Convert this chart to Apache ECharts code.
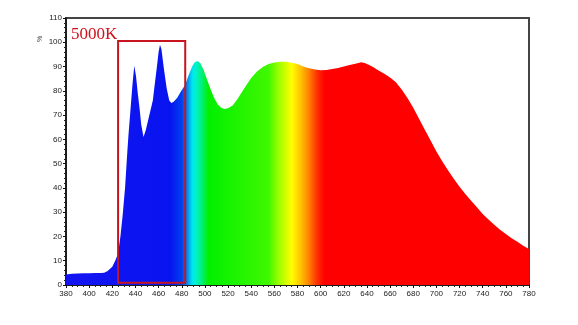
<!DOCTYPE html>
<html>
<head>
<meta charset="utf-8">
<script src="https://cdn.jsdelivr.net/npm/echarts@6/dist/echarts.min.js"></script>
<style>html,body{margin:0;padding:0;background:#fff;}#c{width:578px;height:325px;}</style>
</head>
<body>
<div id="c"></div>
<script>
// wavelength (nm)
const wavelengths = [380,385,390,395,400,405,410,413,416,420,423,425,427,429,431,433,434,436,437.5,439,440.5,442,443.5,445,447,449,451,453,455,456.5,458.3,460,461.2,462.5,464.6,467,469.2,471,473,476,479,483,486,489,491,493.4,496,499,502,505,508,511,514,517,520,524,528,532,536,540,545,550,555,560,565,570,575,580,585,590,595,600,605,610,615,620,625,630,635,638,642,646,650,655,660,665,670,675,680,685,690,695,700,705,710,715,720,725,730,735,740,745,750,755,760,765,770,775,780];
// relative intensity (%)
const intensity = [4.3,4.6,4.7,4.8,4.8,4.9,4.9,5.0,5.8,7.5,10.5,13,20,29,40,55,62,74,83,90.3,86,79,73,66,61,64,68,72,76,82,89,96,99,97,89,81,76,75,75.5,77,79.5,82.5,86.5,90,91.7,92.3,91.5,88.5,84.5,80.5,77,74.5,73,72.5,72.8,74,76.5,79.5,82.5,85.3,88,89.8,91,91.7,92,92,91.6,91,90,89.3,88.8,88.5,88.6,89,89.4,90,90.6,91.2,91.8,91.5,90.6,89.6,88.4,87,85.5,83.5,80.5,77,73,68.5,64,59.5,55,51,47.3,43.8,40.5,37.5,34.7,32,29.3,27,24.8,22.8,21,19.3,17.8,16.2,14.8];
const xTicks = [380,400,420,440,460,480,500,520,540,560,580,600,620,640,660,680,700,720,740,760,780];
const yTicks = [0,10,20,30,40,50,60,70,80,90,100,110];
const boxX = [425, 483];
const boxY = [0.9, 100.5];
const labelText = '5000K';
const unitText = '%';

const seriesData = wavelengths.map((w, i) => [w, intensity[i]]);

const spectrum = new echarts.graphic.LinearGradient(0, 0, 1, 0, [
  {offset: 0.0,    color: '#1414f2'},
  {offset: 0.225,  color: '#0814f0'},
  {offset: 0.25,   color: '#0040ee'},
  {offset: 0.2625, color: '#0090f0'},
  {offset: 0.2725, color: '#00e4f0'},
  {offset: 0.28,   color: '#00f2d0'},
  {offset: 0.2925, color: '#00f080'},
  {offset: 0.3075, color: '#00f000'},
  {offset: 0.4375, color: '#40f800'},
  {offset: 0.4625, color: '#a8ff00'},
  {offset: 0.4875, color: '#ffff00'},
  {offset: 0.5075, color: '#ffc000'},
  {offset: 0.525,  color: '#ff8000'},
  {offset: 0.5425, color: '#ff3000'},
  {offset: 0.5575, color: '#ff0000'},
  {offset: 1.0,    color: '#ff0000'}
]);

const chart = echarts.init(document.getElementById('c'), null, {renderer: 'canvas'});
chart.setOption({
  animation: false,
  backgroundColor: '#fff',
  grid: {left: 66, right: 49, top: 18, bottom: 40, show: true, borderColor: '#444', borderWidth: 2, backgroundColor: 'transparent'},
  xAxis: {
    type: 'value', min: xTicks[0], max: xTicks[xTicks.length - 1], interval: 20,
    axisLine: {show: true, onZero: false, lineStyle: {color: '#111', width: 1.5}},
    axisTick: {show: true, length: 3, lineStyle: {color: '#111'}},
    minorTick: {show: true, splitNumber: 4, length: 2, lineStyle: {color: '#222'}},
    splitLine: {show: false},
    axisLabel: {fontSize: 8, color: '#222', margin: 5, fontFamily: 'Liberation Sans'}
  },
  yAxis: {
    type: 'value', min: yTicks[0], max: yTicks[yTicks.length - 1], interval: 10,
    axisLine: {show: true, lineStyle: {color: '#111', width: 1.5}},
    axisTick: {show: true, length: 3, lineStyle: {color: '#111'}},
    minorTick: {show: true, splitNumber: 5, length: 2, lineStyle: {color: '#222'}},
    splitLine: {show: false},
    axisLabel: {fontSize: 8, color: '#222', margin: 4, fontFamily: 'Liberation Sans'}
  },
  graphic: [
    {type: 'text', left: 71, top: 26, z: 100, style: {text: labelText, fill: '#d0101a', font: '17px "Liberation Serif"'}},
    {type: 'text', x: 37, y: 42, rotation: Math.PI / 2, style: {text: unitText, fill: '#444', font: '7px "Liberation Sans"'}}
  ],
  series: [{
    type: 'line',
    z: 2,
    data: seriesData,
    showSymbol: false,
    smooth: false,
    lineStyle: {width: 0},
    areaStyle: {color: spectrum, opacity: 1}
  }, {
    type: 'custom',
    z: 20,
    data: [[boxX[0], boxY[0], boxX[1], boxY[1]]],
    renderItem: function (params, api) {
      const p0 = api.coord([api.value(0), api.value(3)]);
      const p1 = api.coord([api.value(2), api.value(1)]);
      return {
        type: 'rect',
        shape: {x: p0[0], y: p0[1], width: p1[0] - p0[0], height: p1[1] - p0[1]},
        style: {fill: 'none', stroke: '#c8141e', lineWidth: 2}
      };
    }
  }]
});
</script>
</body>
</html>
